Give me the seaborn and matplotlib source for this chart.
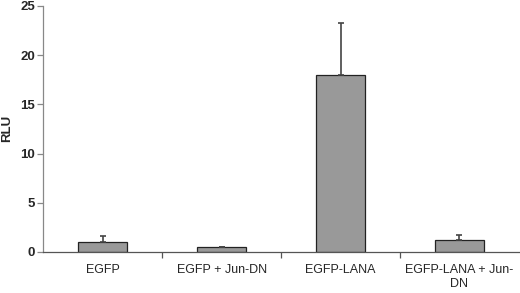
import matplotlib
matplotlib.use("Agg")
import matplotlib.pyplot as plt
import seaborn as sns
import pandas as pd

# ===== Data =====
conditions = ["EGFP", "EGFP + Jun-DN", "EGFP-LANA", "EGFP-LANA + Jun-\nDN"]
rlu_mean = [1.0, 0.5, 18.0, 1.2]
rlu_err = [0.6, 0.05, 5.3, 0.55]

df = pd.DataFrame({"condition": conditions, "rlu": rlu_mean})

sns.set_style("white")
plt.rcParams["font.family"] = ["Liberation Sans", "DejaVu Sans"]

fig = plt.figure(figsize=(5.2, 2.93), dpi=100)
ax = fig.add_axes([0.083, 0.14, 0.915, 0.84])

sns.barplot(data=df, x="condition", y="rlu", color="#999999", saturation=1,
            width=0.41, edgecolor="#222222", linewidth=0.9, errorbar=None, ax=ax)

# upper-only error bars
ax.errorbar(range(len(conditions)), rlu_mean, yerr=[[0] * len(rlu_err), rlu_err],
            fmt="none", ecolor="#444444", elinewidth=1.2, capsize=2.2, capthick=1.2)

ax.set_xlim(-0.5, 3.5)
ax.set_ylim(0, 25)
ax.set_yticks([0, 5, 10, 15, 20, 25])
ax.set_xlabel("")
ax.set_ylabel("RLU", fontsize=9.5, fontweight="bold", labelpad=5)

for s in ["top", "right"]:
    ax.spines[s].set_visible(False)
ax.spines["left"].set_color("#888888")
ax.spines["bottom"].set_color("#555555")
ax.spines["left"].set_linewidth(0.9)
ax.spines["bottom"].set_linewidth(0.9)

ax.tick_params(axis="y", direction="out", length=4, width=0.9, color="#888888",
               labelsize=9.5, left=True, pad=2)
for lbl in ax.get_yticklabels():
    lbl.set_fontweight("bold")
ax.tick_params(axis="x", which="major", length=0, labelsize=9, pad=9)
ax.set_xticks([0.5, 1.5, 2.5], minor=True)
ax.tick_params(axis="x", which="minor", direction="out", length=4, width=0.9,
               color="#555555", bottom=True)

fig.savefig("out.png", dpi=100)
